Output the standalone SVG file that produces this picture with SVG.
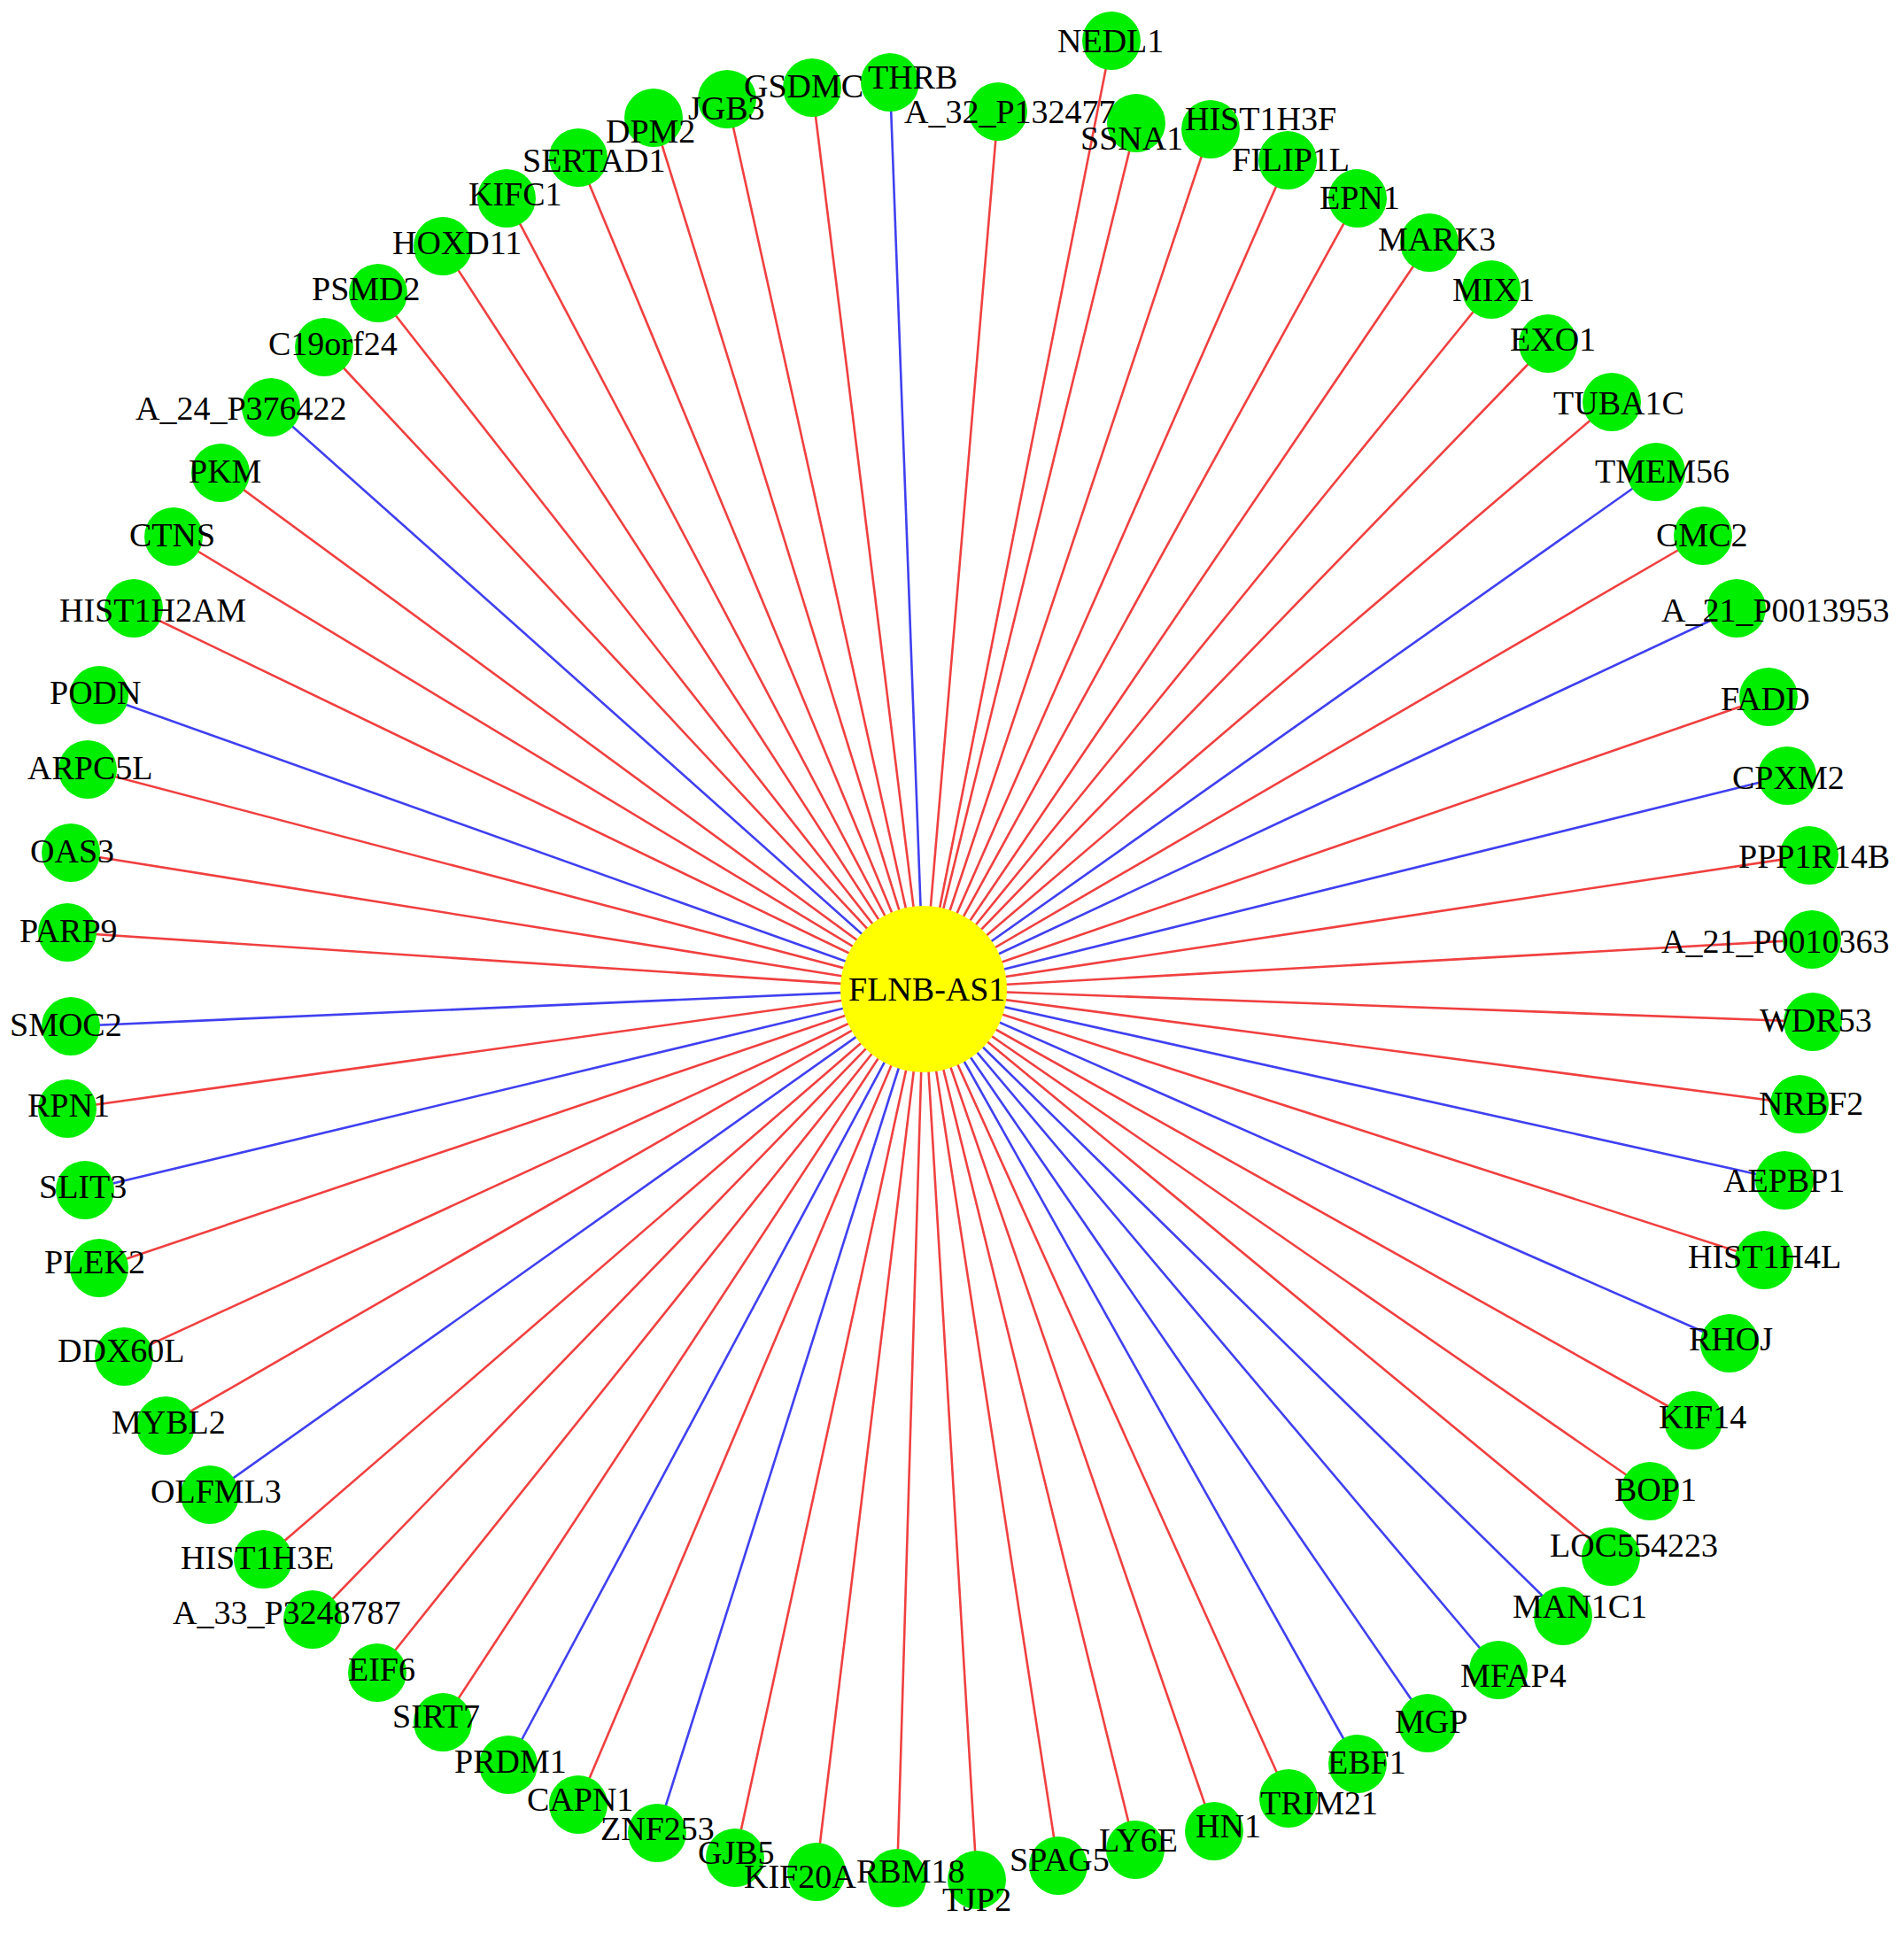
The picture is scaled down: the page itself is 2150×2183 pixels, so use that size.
<svg xmlns="http://www.w3.org/2000/svg" width="2150" height="2183" viewBox="0 0 2150 2183">
<style>
.r{stroke:#f04040;stroke-width:2.6}
.b{stroke:#4040f0;stroke-width:2.6}
.n{fill:#00ee00}
.c{fill:#ffff00}
text{font-family:"Liberation Serif","Times New Roman",serif;font-size:38px;fill:#000}
</style>
<rect width="2150" height="2183" fill="#ffffff"/>
<g id="edges">
<line class="b" x1="1043" y1="1117" x2="1005" y2="93"/>
<line class="r" x1="1043" y1="1117" x2="1127" y2="126"/>
<line class="r" x1="1043" y1="1117" x2="1255" y2="46"/>
<line class="r" x1="1043" y1="1117" x2="1283" y2="139"/>
<line class="r" x1="1043" y1="1117" x2="1367" y2="146"/>
<line class="r" x1="1043" y1="1117" x2="1454" y2="181"/>
<line class="r" x1="1043" y1="1117" x2="1533" y2="224"/>
<line class="r" x1="1043" y1="1117" x2="1614" y2="274"/>
<line class="r" x1="1043" y1="1117" x2="1684" y2="327"/>
<line class="r" x1="1043" y1="1117" x2="1748" y2="388"/>
<line class="r" x1="1043" y1="1117" x2="1820" y2="454"/>
<line class="b" x1="1043" y1="1117" x2="1870" y2="533"/>
<line class="r" x1="1043" y1="1117" x2="1923" y2="605"/>
<line class="b" x1="1043" y1="1117" x2="1961" y2="687"/>
<line class="r" x1="1043" y1="1117" x2="1997" y2="787"/>
<line class="b" x1="1043" y1="1117" x2="2018" y2="876"/>
<line class="r" x1="1043" y1="1117" x2="2043" y2="966"/>
<line class="r" x1="1043" y1="1117" x2="2046" y2="1061"/>
<line class="r" x1="1043" y1="1117" x2="2047" y2="1154"/>
<line class="r" x1="1043" y1="1117" x2="2032" y2="1247"/>
<line class="b" x1="1043" y1="1117" x2="2015" y2="1333"/>
<line class="r" x1="1043" y1="1117" x2="1992" y2="1423"/>
<line class="b" x1="1043" y1="1117" x2="1953" y2="1517"/>
<line class="r" x1="1043" y1="1117" x2="1912" y2="1604"/>
<line class="r" x1="1043" y1="1117" x2="1863" y2="1684"/>
<line class="r" x1="1043" y1="1117" x2="1819" y2="1758"/>
<line class="b" x1="1043" y1="1117" x2="1765" y2="1825"/>
<line class="b" x1="1043" y1="1117" x2="1692" y2="1886"/>
<line class="b" x1="1043" y1="1117" x2="1612" y2="1946"/>
<line class="b" x1="1043" y1="1117" x2="1533" y2="1992"/>
<line class="r" x1="1043" y1="1117" x2="1455" y2="2031"/>
<line class="r" x1="1043" y1="1117" x2="1371" y2="2068"/>
<line class="r" x1="1043" y1="1117" x2="1282" y2="2089"/>
<line class="r" x1="1043" y1="1117" x2="1195" y2="2107"/>
<line class="r" x1="1043" y1="1117" x2="1103" y2="2123"/>
<line class="r" x1="1043" y1="1117" x2="1013" y2="2121"/>
<line class="r" x1="1043" y1="1117" x2="922" y2="2114"/>
<line class="r" x1="1043" y1="1117" x2="830" y2="2098"/>
<line class="b" x1="1043" y1="1117" x2="742" y2="2070"/>
<line class="r" x1="1043" y1="1117" x2="653" y2="2038"/>
<line class="b" x1="1043" y1="1117" x2="574" y2="1993"/>
<line class="r" x1="1043" y1="1117" x2="500" y2="1945"/>
<line class="r" x1="1043" y1="1117" x2="426" y2="1889"/>
<line class="r" x1="1043" y1="1117" x2="353" y2="1829"/>
<line class="r" x1="1043" y1="1117" x2="297" y2="1761"/>
<line class="b" x1="1043" y1="1117" x2="237" y2="1688"/>
<line class="r" x1="1043" y1="1117" x2="187" y2="1610"/>
<line class="r" x1="1043" y1="1117" x2="140" y2="1532"/>
<line class="r" x1="1043" y1="1117" x2="112" y2="1432"/>
<line class="b" x1="1043" y1="1117" x2="96" y2="1344"/>
<line class="r" x1="1043" y1="1117" x2="76" y2="1252"/>
<line class="b" x1="1043" y1="1117" x2="80" y2="1159"/>
<line class="r" x1="1043" y1="1117" x2="76" y2="1053"/>
<line class="r" x1="1043" y1="1117" x2="80" y2="963"/>
<line class="r" x1="1043" y1="1117" x2="99" y2="869"/>
<line class="b" x1="1043" y1="1117" x2="112" y2="785"/>
<line class="r" x1="1043" y1="1117" x2="151" y2="687"/>
<line class="r" x1="1043" y1="1117" x2="196" y2="606"/>
<line class="r" x1="1043" y1="1117" x2="249" y2="534"/>
<line class="b" x1="1043" y1="1117" x2="306" y2="460"/>
<line class="r" x1="1043" y1="1117" x2="366" y2="392"/>
<line class="r" x1="1043" y1="1117" x2="427" y2="331"/>
<line class="r" x1="1043" y1="1117" x2="500" y2="278"/>
<line class="r" x1="1043" y1="1117" x2="572" y2="224"/>
<line class="r" x1="1043" y1="1117" x2="653" y2="178"/>
<line class="r" x1="1043" y1="1117" x2="738" y2="133"/>
<line class="r" x1="1043" y1="1117" x2="821" y2="112"/>
<line class="r" x1="1043" y1="1117" x2="917" y2="99"/>
</g>
<g id="circles">
<g id="n-FLNB-AS1"><circle class="c" cx="1043" cy="1117" r="94"/></g>
<g id="n-THRB"><circle class="n" cx="1005" cy="93" r="33"/></g>
<g id="n-A_32_P132477"><circle class="n" cx="1127" cy="126" r="33"/></g>
<g id="n-NEDL1"><circle class="n" cx="1255" cy="46" r="33"/></g>
<g id="n-SSNA1"><circle class="n" cx="1283" cy="139" r="33"/></g>
<g id="n-HIST1H3F"><circle class="n" cx="1367" cy="146" r="33"/></g>
<g id="n-FILIP1L"><circle class="n" cx="1454" cy="181" r="33"/></g>
<g id="n-EPN1"><circle class="n" cx="1533" cy="224" r="33"/></g>
<g id="n-MARK3"><circle class="n" cx="1614" cy="274" r="33"/></g>
<g id="n-MIX1"><circle class="n" cx="1684" cy="327" r="33"/></g>
<g id="n-EXO1"><circle class="n" cx="1748" cy="388" r="33"/></g>
<g id="n-TUBA1C"><circle class="n" cx="1820" cy="454" r="33"/></g>
<g id="n-TMEM56"><circle class="n" cx="1870" cy="533" r="33"/></g>
<g id="n-CMC2"><circle class="n" cx="1923" cy="605" r="33"/></g>
<g id="n-A_21_P0013953"><circle class="n" cx="1961" cy="687" r="33"/></g>
<g id="n-FADD"><circle class="n" cx="1997" cy="787" r="33"/></g>
<g id="n-CPXM2"><circle class="n" cx="2018" cy="876" r="33"/></g>
<g id="n-PPP1R14B"><circle class="n" cx="2043" cy="966" r="33"/></g>
<g id="n-A_21_P0010363"><circle class="n" cx="2046" cy="1061" r="33"/></g>
<g id="n-WDR53"><circle class="n" cx="2047" cy="1154" r="33"/></g>
<g id="n-NRBF2"><circle class="n" cx="2032" cy="1247" r="33"/></g>
<g id="n-AEPBP1"><circle class="n" cx="2015" cy="1333" r="33"/></g>
<g id="n-HIST1H4L"><circle class="n" cx="1992" cy="1423" r="33"/></g>
<g id="n-RHOJ"><circle class="n" cx="1953" cy="1517" r="33"/></g>
<g id="n-KIF14"><circle class="n" cx="1912" cy="1604" r="33"/></g>
<g id="n-BOP1"><circle class="n" cx="1863" cy="1684" r="33"/></g>
<g id="n-LOC554223"><circle class="n" cx="1819" cy="1758" r="33"/></g>
<g id="n-MAN1C1"><circle class="n" cx="1765" cy="1825" r="33"/></g>
<g id="n-MFAP4"><circle class="n" cx="1692" cy="1886" r="33"/></g>
<g id="n-MGP"><circle class="n" cx="1612" cy="1946" r="33"/></g>
<g id="n-EBF1"><circle class="n" cx="1533" cy="1992" r="33"/></g>
<g id="n-TRIM21"><circle class="n" cx="1455" cy="2031" r="33"/></g>
<g id="n-HN1"><circle class="n" cx="1371" cy="2068" r="33"/></g>
<g id="n-LY6E"><circle class="n" cx="1282" cy="2089" r="33"/></g>
<g id="n-SPAG5"><circle class="n" cx="1195" cy="2107" r="33"/></g>
<g id="n-TJP2"><circle class="n" cx="1103" cy="2123" r="33"/></g>
<g id="n-RBM18"><circle class="n" cx="1013" cy="2121" r="33"/></g>
<g id="n-KIF20A"><circle class="n" cx="922" cy="2114" r="33"/></g>
<g id="n-GJB5"><circle class="n" cx="830" cy="2098" r="33"/></g>
<g id="n-ZNF253"><circle class="n" cx="742" cy="2070" r="33"/></g>
<g id="n-CAPN1"><circle class="n" cx="653" cy="2038" r="33"/></g>
<g id="n-PRDM1"><circle class="n" cx="574" cy="1993" r="33"/></g>
<g id="n-SIRT7"><circle class="n" cx="500" cy="1945" r="33"/></g>
<g id="n-EIF6"><circle class="n" cx="426" cy="1889" r="33"/></g>
<g id="n-A_33_P3248787"><circle class="n" cx="353" cy="1829" r="33"/></g>
<g id="n-HIST1H3E"><circle class="n" cx="297" cy="1761" r="33"/></g>
<g id="n-OLFML3"><circle class="n" cx="237" cy="1688" r="33"/></g>
<g id="n-MYBL2"><circle class="n" cx="187" cy="1610" r="33"/></g>
<g id="n-DDX60L"><circle class="n" cx="140" cy="1532" r="33"/></g>
<g id="n-PLEK2"><circle class="n" cx="112" cy="1432" r="33"/></g>
<g id="n-SLIT3"><circle class="n" cx="96" cy="1344" r="33"/></g>
<g id="n-RPN1"><circle class="n" cx="76" cy="1252" r="33"/></g>
<g id="n-SMOC2"><circle class="n" cx="80" cy="1159" r="33"/></g>
<g id="n-PARP9"><circle class="n" cx="76" cy="1053" r="33"/></g>
<g id="n-OAS3"><circle class="n" cx="80" cy="963" r="33"/></g>
<g id="n-ARPC5L"><circle class="n" cx="99" cy="869" r="33"/></g>
<g id="n-PODN"><circle class="n" cx="112" cy="785" r="33"/></g>
<g id="n-HIST1H2AM"><circle class="n" cx="151" cy="687" r="33"/></g>
<g id="n-CTNS"><circle class="n" cx="196" cy="606" r="33"/></g>
<g id="n-PKM"><circle class="n" cx="249" cy="534" r="33"/></g>
<g id="n-A_24_P376422"><circle class="n" cx="306" cy="460" r="33"/></g>
<g id="n-C19orf24"><circle class="n" cx="366" cy="392" r="33"/></g>
<g id="n-PSMD2"><circle class="n" cx="427" cy="331" r="33"/></g>
<g id="n-HOXD11"><circle class="n" cx="500" cy="278" r="33"/></g>
<g id="n-KIFC1"><circle class="n" cx="572" cy="224" r="33"/></g>
<g id="n-SERTAD1"><circle class="n" cx="653" cy="178" r="33"/></g>
<g id="n-DPM2"><circle class="n" cx="738" cy="133" r="33"/></g>
<g id="n-JGB3"><circle class="n" cx="821" cy="112" r="33"/></g>
<g id="n-GSDMC"><circle class="n" cx="917" cy="99" r="33"/></g>
</g>
<g id="labels">
<text x="958" y="1130">FLNB-AS1</text>
<text x="980" y="100">THRB</text>
<text x="1021" y="139">A_32_P132477</text>
<text x="1194" y="59">NEDL1</text>
<text x="1220" y="169">SSNA1</text>
<text x="1338" y="147">HIST1H3F</text>
<text x="1391" y="193">FILIP1L</text>
<text x="1490" y="236">EPN1</text>
<text x="1556" y="283">MARK3</text>
<text x="1640" y="340">MIX1</text>
<text x="1705" y="396">EXO1</text>
<text x="1754" y="468">TUBA1C</text>
<text x="1801" y="545">TMEM56</text>
<text x="1870" y="617">CMC2</text>
<text x="1876" y="702">A_21_P0013953</text>
<text x="1943" y="802">FADD</text>
<text x="1956" y="891">CPXM2</text>
<text x="1963" y="980">PPP1R14B</text>
<text x="1876" y="1076">A_21_P0010363</text>
<text x="1987" y="1165">WDR53</text>
<text x="1986" y="1259">NRBF2</text>
<text x="1946" y="1346">AEPBP1</text>
<text x="1906" y="1432">HIST1H4L</text>
<text x="1907" y="1525">RHOJ</text>
<text x="1873" y="1613">KIF14</text>
<text x="1823" y="1695">BOP1</text>
<text x="1750" y="1758">LOC554223</text>
<text x="1708" y="1827">MAN1C1</text>
<text x="1649" y="1905">MFAP4</text>
<text x="1575" y="1957">MGP</text>
<text x="1499" y="2003">EBF1</text>
<text x="1423" y="2049">TRIM21</text>
<text x="1350" y="2075">HN1</text>
<text x="1241" y="2091">LY6E</text>
<text x="1140" y="2113">SPAG5</text>
<text x="1064" y="2158">TJP2</text>
<text x="967" y="2126">RBM18</text>
<text x="840" y="2132">KIF20A</text>
<text x="788" y="2105">GJB5</text>
<text x="678" y="2078">ZNF253</text>
<text x="595" y="2045">CAPN1</text>
<text x="513" y="2002">PRDM1</text>
<text x="443" y="1951">SIRT7</text>
<text x="393" y="1898">EIF6</text>
<text x="195" y="1834">A_33_P3248787</text>
<text x="204" y="1772">HIST1H3E</text>
<text x="170" y="1697">OLFML3</text>
<text x="126" y="1619">MYBL2</text>
<text x="65" y="1538">DDX60L</text>
<text x="50" y="1438">PLEK2</text>
<text x="44" y="1353">SLIT3</text>
<text x="31" y="1261">RPN1</text>
<text x="11" y="1170">SMOC2</text>
<text x="22" y="1064">PARP9</text>
<text x="34" y="974">OAS3</text>
<text x="31" y="880">ARPC5L</text>
<text x="56" y="795">PODN</text>
<text x="67" y="702">HIST1H2AM</text>
<text x="146" y="617">CTNS</text>
<text x="213" y="545">PKM</text>
<text x="153" y="474">A_24_P376422</text>
<text x="303" y="401">C19orf24</text>
<text x="352" y="339">PSMD2</text>
<text x="443" y="287">HOXD11</text>
<text x="529" y="232">KIFC1</text>
<text x="590" y="194">SERTAD1</text>
<text x="684" y="161">DPM2</text>
<text x="777" y="135">JGB3</text>
<text x="840" y="110">GSDMC</text>
</g>
</svg>
